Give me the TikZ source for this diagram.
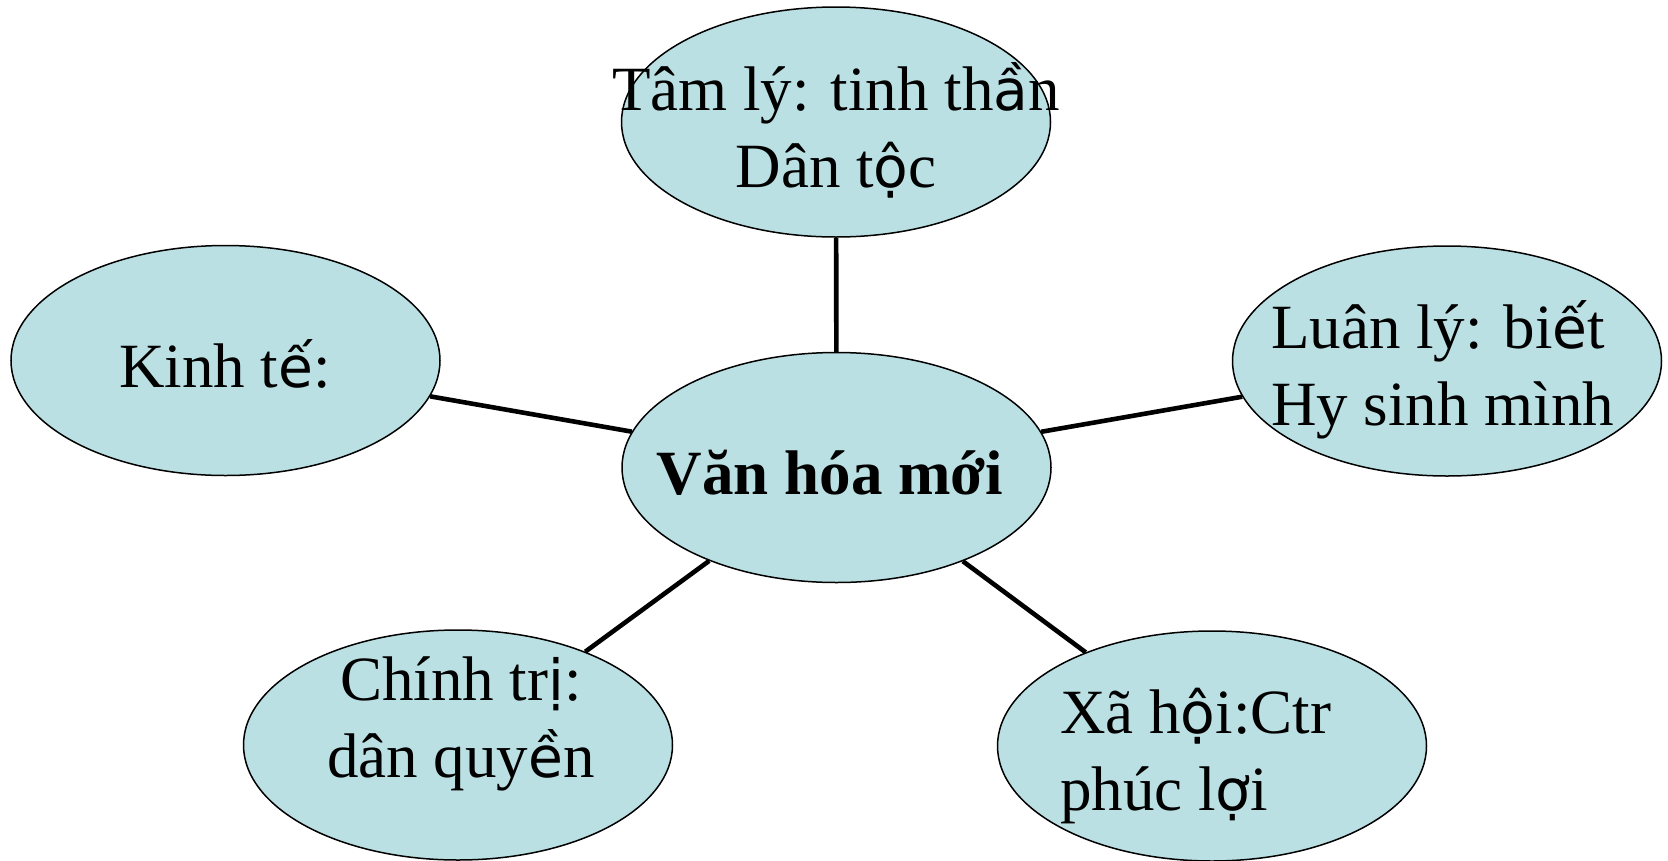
\documentclass[tikz,border=0pt]{standalone}
\usepackage{fontspec}
\setmainfont{Liberation Serif}
\newfontfamily\fbfont[Scale=0.9]{DejaVu Sans}
\newcommand\fbk[1]{{\fbfont #1}}
\usetikzlibrary{shapes.geometric}
\definecolor{ellfill}{RGB}{187,224,227}
\begin{document}
\begin{tikzpicture}[x=1pt,y=-1pt,
  ell/.style={ellipse,draw=black,line width=1.5pt,fill=ellfill,minimum width=429pt,minimum height=230pt,inner sep=0pt},
  lbl/.style={inner sep=0pt,font=\fontsize{63}{77}\selectfont,anchor=base},
  link/.style={line width=4.6pt}]
\useasboundingbox (0,0) rectangle (1668,860);
\node[ell] (cen) at (836.5,467.5) {};
\node[ell] (top) at (836,122) {};
\node[ell] (lft) at (225.5,360.5) {};
\node[ell] (rgt) at (1447,361) {};
\node[ell] (bl) at (458,745) {};
\node[ell] (br) at (1212,746) {};
\draw[link] (cen) -- (top);
\draw[link] (cen) -- (lft);
\draw[link] (cen) -- (rgt);
\draw[link] (cen) -- (bl);
\draw[link] (cen) -- (br);
\node[lbl] (toptxt) at (836,110) {\begin{tabular}[t]{@{}c@{}}Tâm lý: tinh th\fbk{ầ}n\\Dân t\fbk{ộ}c\end{tabular}};
\node[lbl] (lfttxt) at (225,387) {Kinh t\fbk{ế}:};
\node[lbl,anchor=base west] (rgttxt) at (1271,348) {\begin{tabular}[t]{@{}l@{}}Luân lý: bi\fbk{ế}t\\Hy sinh mình\end{tabular}};
\node[lbl] (centxt) at (830,494) {\bfseries Văn hóa mới};
\node[lbl] (bltxt) at (461,700) {\begin{tabular}[t]{@{}c@{}}Chính tr\fbk{ị}:\\dân quy\fbk{ề}n\end{tabular}};
\node[lbl,anchor=base west] (brtxt) at (1060,733) {\begin{tabular}[t]{@{}l@{}}Xã h\fbk{ộ}i:Ctr\\phúc l\fbk{ợ}i\end{tabular}};
\end{tikzpicture}
\end{document}
